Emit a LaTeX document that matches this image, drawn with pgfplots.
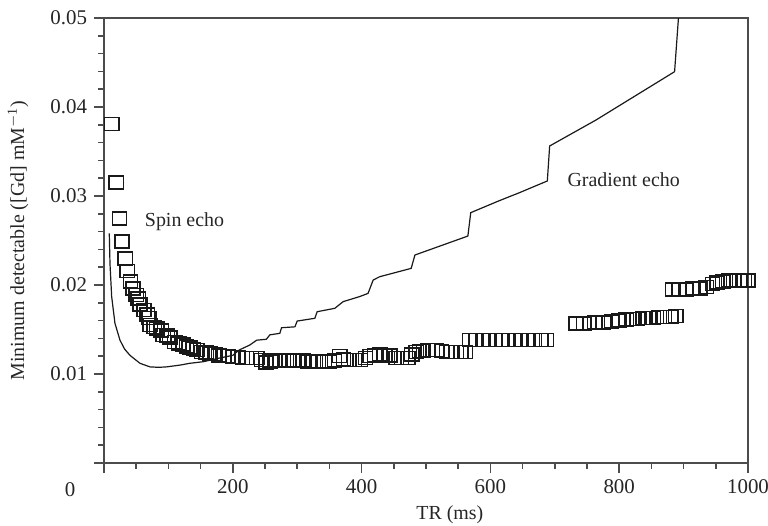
\documentclass[border=0pt]{standalone}
\usepackage{pgfplots}
\pgfplotsset{compat=1.18}
\usepackage{fontspec}
\setmainfont{Liberation Serif}
\begin{document}
\begin{tikzpicture}
\begin{axis}[
  scale only axis,
  width=322bp, height=222.5bp,
  xmin=0, xmax=1000, ymin=0, ymax=0.05,
  scaled y ticks=false, scaled x ticks=false,
  axis line style={black!70, line width=0.8bp},
  tick style={black!70, line width=0.8bp},
  tick align=outside,
  xtick pos=left, ytick pos=left,
  major tick length=5bp, minor tick length=3bp,
  xtick={0,200,400,600,800,1000},
  xticklabels={,200,400,600,800,1000},
  ytick={0,0.01,0.02,0.03,0.04,0.05},
  yticklabels={,0.01,0.02,0.03,0.04,0.05},
  minor x tick num=3, minor y tick num=4,
  /pgf/number format/assume math mode=true,
  tick label style={font=\fontsize{10.5}{12}\selectfont, text=black!85},
  label style={font=\fontsize{10}{12}\selectfont, text=black!85},
  xlabel={TR (ms)},
  ylabel={Minimum detectable ([Gd] mM\textsuperscript{$-$1})},
  xlabel style={at={(rel axis cs:0.537,0)}, anchor=center, yshift=-26bp},
  ylabel style={at={(rel axis cs:0,0.5)}, anchor=center, yshift=43bp},
  clip mode=individual,
]
\addplot[black!90, line width=0.6bp] coordinates {
(8.2,0.0258) (9.3,0.0224) (11.9,0.0187) (17,0.0157) (24.8,0.0138) (32,0.0128)
(40.3,0.0121) (55.9,0.0112) (71.4,0.0108) (85,0.01075) (97,0.0108) (118,0.0110)
(133,0.0112) (154,0.01138) (180,0.0118) (200,0.0121) (210,0.0127) (226.5,0.01326)
(237,0.0138) (252,0.0139) (257.6,0.0144) (273,0.01457) (275.7,0.0152) (296.4,0.0153)
(300,0.01595) (327.4,0.01626) (331,0.0170) (358.4,0.01738) (371.3,0.01813) (397,0.01870)
(410,0.01906) (418,0.02056) (428,0.02093) (477,0.02187) (482.8,0.02337) (565,0.0255)
(569.5,0.02813) (614,0.02948) (645,0.03037) (688.4,0.03169) (692,0.03562) (764,0.03854)
(886,0.04397) (892,0.0500) (893,0.052)
};
\addplot[only marks, mark=square, mark size=3.25bp, mark options={black!90, line width=0.75bp, xscale=1.1}] coordinates {
(12,0.0381) (19,0.0315) (24,0.0275) (28,0.0249) (33,0.0230) (36,0.0216) (41,0.0204)
(45,0.0196) (50,0.0189) (53,0.0185) (56,0.0178) (62,0.0172) (67,0.0167) (70,0.0163)
(72,0.0155) (78,0.0153) (82,0.0151) (89,0.0149) (92,0.0144) (98,0.0143) (102,0.0141)
(110,0.0136) (116,0.0134) (123,0.0133) (128,0.0131) (133,0.0130) (139,0.0128) (144,0.0127)
(152,0.0125) (159,0.0124) (165,0.0123) (172,0.01225) (178,0.0121) (185,0.0120) (192,0.0120)
(200,0.0119) (208,0.0119) (215,0.0118) (221,0.0118) (229,0.0118) (237,0.0118) (245,0.0116)
(252,0.0113) (258,0.0114) (265,0.0115) (273,0.0115) (283,0.0116) (293,0.0115) (301,0.0115)
(309,0.0115) (317,0.0114) (325,0.0114) (333,0.0114) (342,0.0114) (350,0.0114) (358,0.0115)
(366,0.0120) (372,0.0117) (380,0.0116) (389,0.0116) (398,0.0116) (406,0.0118) (413,0.0120)
(420,0.0121) (428,0.0122) (436,0.0121) (444,0.0121) (454,0.0118) (462,0.0118) (472,0.0118)
(478,0.0122) (485,0.0125) (490,0.0126) (496,0.0126) (503,0.0127) (510,0.0127) (516,0.0127)
(524,0.0126) (532,0.0125) (540,0.0125) (547,0.0125) (554,0.0125) (561,0.0125)
(568,0.0138) (578,0.0138) (588,0.0138) (598,0.0138) (608,0.0138) (618,0.0138) (628,0.0138)
(638,0.0138) (648,0.0138) (658,0.0138) (668,0.0138) (678,0.0138) (687,0.0138)
(733,0.0157) (745,0.0157) (762,0.0158) (775,0.0158) (788,0.0159) (800,0.0160) (811,0.0161)
(820,0.0162) (828,0.0162) (837,0.0163) (845,0.0163) (853,0.0163) (862,0.0164) (870,0.0164)
(880,0.0164) (888,0.0165)
(883,0.0195) (893,0.0195) (904,0.0195) (914,0.0196) (925,0.0196) (935,0.0198) (945,0.0201)
(952,0.0203) (961,0.0204) (970,0.0205) (978,0.0205) (987,0.0205) (994,0.0205) (1000,0.0205)
};
\node[font=\fontsize{10}{12}\selectfont, text=black!85] at (axis cs:125,0.0271) {Spin echo};
\node[font=\fontsize{10}{12}\selectfont, text=black!85] at (axis cs:807,0.0318) {Gradient echo};
\node[font=\fontsize{10.5}{12}\selectfont, text=black!85, xshift=-17bp, yshift=-13.5bp] at (axis cs:0,0) {0};
\end{axis}
\pgfresetboundingbox
\path (current axis.south west) ++(-52bp,-31.5bp) rectangle ++(384bp,263bp);
\end{tikzpicture}
\end{document}
